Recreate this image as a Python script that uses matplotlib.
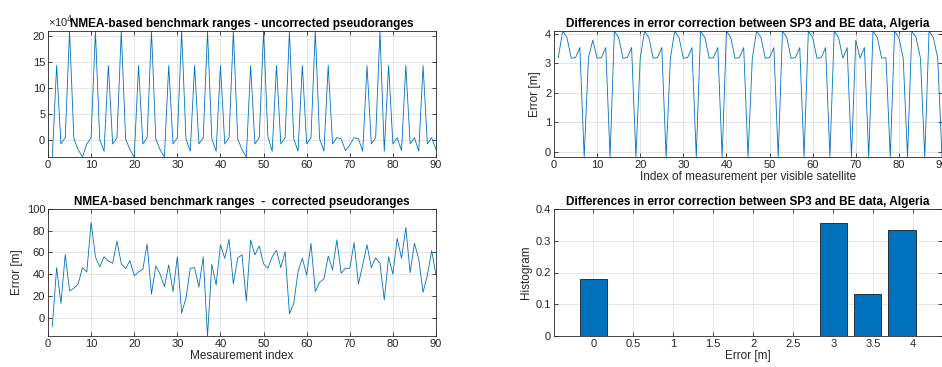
import matplotlib
matplotlib.use("Agg")
import matplotlib.pyplot as plt
import numpy as np

plt.rcParams['font.family'] = ['Liberation Sans', 'DejaVu Sans']

# measurement index 1..90
idx = np.arange(1, 91)

# uncorrected pseudorange errors (axis scaled x10^4)
uncorrected = [-3.32, 14.3, -0.8, 0.4, 20.96, 0.2, -1.9, -3.32, -0.8, 0.4,
               20.96, 0.0, -2.2, 14.3, -0.8, 0.4, 20.96, 0.2, -1.9, -3.32,
               14.3, -0.8, 0.4, 20.96, 0.2, -1.9, -3.32, 14.3, -0.8, 0.4,
               20.96, 0.2, -2.2, 14.3, -0.8, 0.4, 20.96, 0.2, -2.2, 14.3,
               -0.8, 0.4, 20.96, 0.2, -1.9, -3.32, 14.3, -0.8, 0.4, 20.96,
               0.6, -2.2, 14.3, -0.8, 0.4, 20.96, 0.2, -2.2, 14.3, -0.8,
               0.4, 20.96, 0.2, -2.2, 14.3, -0.8, 0.4, 0.2, -2.1, -1.0,
               0.4, 0.2, -2.2, 14.3, -0.8, 0.4, 20.96, -2.2, 14.3, -0.8,
               0.4, -2.1, 14.3, -0.8, 0.4, -2.2, 14.3, -0.8, 0.4, -1.9]

# corrected pseudorange errors [m]
corrected = [-8.3, 46, 13, 58, 24.5, 27, 31, 46, 42, 87.7,
             56, 46.6, 56, 52, 50, 70.5, 49.7, 45, 52.5, 38.6,
             42, 44.5, 67.8, 21.5, 47.5, 40, 28.5, 48.5, 24, 56,
             4, 17.8, 45.4, 46, 28, 56, -17, 49, 30, 67,
             54.6, 72, 31, 55, 57.7, 15.3, 71.5, 57.7, 66, 49.4,
             45.4, 56, 62, 46, 60.7, 3.4, 13, 42.3, 54.6, 39,
             68.4, 24, 32.5, 35.6, 56.7, 44, 71.5, 40.8, 45.4, 45.4,
             69, 31, 48.5, 67, 46, 55, 50, 16.3, 56, 40,
             73, 54.6, 83, 41.4, 68.4, 53.7, 23.3, 39, 61.7, 39]

# SP3 vs BE correction differences [m]
sp3_be_diff = [3.19, 4.09, 3.87, 3.17, 3.19, 3.53, -0.17, 3.19, 3.78, 3.17,
               3.19, 3.53, -0.17, 4.09, 3.87, 3.17, 3.19, 3.53, -0.17, 3.17,
               4.09, 3.87, 3.17, 3.19, 3.53, -0.17, 3.17, 4.09, 3.87, 3.17,
               3.19, 3.53, -0.17, 4.09, 3.87, 3.17, 3.19, 3.53, -0.17, 4.09,
               3.87, 3.17, 3.19, 3.53, -0.17, 3.17, 4.09, 3.87, 3.17, 3.19,
               3.53, -0.17, 4.09, 3.87, 3.17, 3.19, 3.53, -0.17, 4.09, 3.87,
               3.17, 3.19, 3.53, -0.17, 4.09, 3.87, 3.17, 3.53, -0.17, 3.78,
               3.17, 3.53, -0.17, 4.09, 3.87, 3.17, 3.19, -0.17, 4.09, 3.87,
               3.17, -0.17, 4.09, 3.87, 3.17, -0.17, 4.09, 3.87, 3.17, -0.17]

# normalised histogram of the differences
hist_centers = [0.0, 0.43, 0.86, 1.29, 1.72, 2.15, 2.58, 3.0, 3.43, 3.86]
hist_values = [0.178, 0, 0, 0, 0, 0, 0, 0.356, 0.133, 0.333]

blue = '#0072BD'
dark = '#262626'

W, H = 942, 367
fig = plt.figure(figsize=(W / 100, H / 100), dpi=100)


def box(l, t, r, b):
    return [l / W, 1 - b / H, (r - l) / W, (b - t) / H]


def style(ax):
    ax.grid(True, color='#e0e0e0', linewidth=0.6)
    ax.set_axisbelow(True)
    for s in ax.spines.values():
        s.set_color(dark)
        s.set_linewidth(0.6)
    ax.tick_params(direction='in', length=3, width=0.6, top=True, right=True,
                   labelsize=8, colors=dark, pad=2)


ax1 = fig.add_axes(box(48, 31, 436, 157))
ax2 = fig.add_axes(box(48, 209, 436, 336))
ax3 = fig.add_axes(box(554, 31, 942, 157))
ax4 = fig.add_axes(box(554, 209, 942, 336))

# top left
ax1.plot(idx, uncorrected, color=blue, linewidth=0.6)
ax1.set_xlim(0, 90)
ax1.set_ylim(min(uncorrected), max(uncorrected))
ax1.set_xticks(range(0, 91, 10))
ax1.set_yticks([0, 5, 10, 15, 20])
style(ax1)
ax1.text(0.0, 1.01, '×10$^{4}$', transform=ax1.transAxes, fontsize=8,
         color=dark, ha='left', va='bottom')
ax1.set_title('NMEA-based benchmark ranges - uncorrected pseudoranges',
              fontsize=8.5, fontweight='bold', pad=3)

# bottom left
ax2.plot(idx, corrected, color=blue, linewidth=0.6)
ax2.set_xlim(0, 90)
ax2.set_ylim(min(corrected), 100)
ax2.set_xticks(range(0, 91, 10))
ax2.set_yticks(range(0, 101, 20))
style(ax2)
ax2.set_title('NMEA-based benchmark ranges  -  corrected pseudoranges',
              fontsize=8.5, fontweight='bold', pad=3)
ax2.set_xlabel('Mesaurement index', fontsize=8.5, color=dark, labelpad=1)
ax2.set_ylabel('Error [m]', fontsize=8.5, color=dark, labelpad=3)

# top right
ax3.plot(idx, sp3_be_diff, color=blue, linewidth=0.6)
ax3.set_xlim(0, 90)
ax3.set_ylim(min(sp3_be_diff), max(sp3_be_diff))
ax3.set_xticks(range(0, 91, 10))
ax3.set_yticks([0, 1, 2, 3, 4])
style(ax3)
ax3.set_title('Differences in error correction between SP3 and BE data, Algeria',
              fontsize=8.5, fontweight='bold', pad=3)
ax3.set_xlabel('Index of measurement per visible satellite', fontsize=8.5,
               color=dark, labelpad=1)
ax3.set_ylabel('Error [m]', fontsize=8.5, color=dark, labelpad=3)

# bottom right
ax4.bar(hist_centers, hist_values, width=0.34, color=blue, edgecolor='#1a1a1a',
        linewidth=0.6)
ax4.set_xlim(-0.49, 4.36)
ax4.set_ylim(0, 0.4)
ax4.set_xticks([0, 0.5, 1, 1.5, 2, 2.5, 3, 3.5, 4])
ax4.set_xticklabels(['0', '0.5', '1', '1.5', '2', '2.5', '3', '3.5', '4'])
ax4.set_yticks([0, 0.1, 0.2, 0.3, 0.4])
ax4.set_yticklabels(['0', '0.1', '0.2', '0.3', '0.4'])
style(ax4)
ax4.set_title('Differences in error correction between SP3 and BE data, Algeria',
              fontsize=8.5, fontweight='bold', pad=3)
ax4.set_xlabel('Error [m]', fontsize=8.5, color=dark, labelpad=1)
ax4.set_ylabel('Histogram', fontsize=8.5, color=dark, labelpad=3)

fig.savefig('out.png', dpi=100)
